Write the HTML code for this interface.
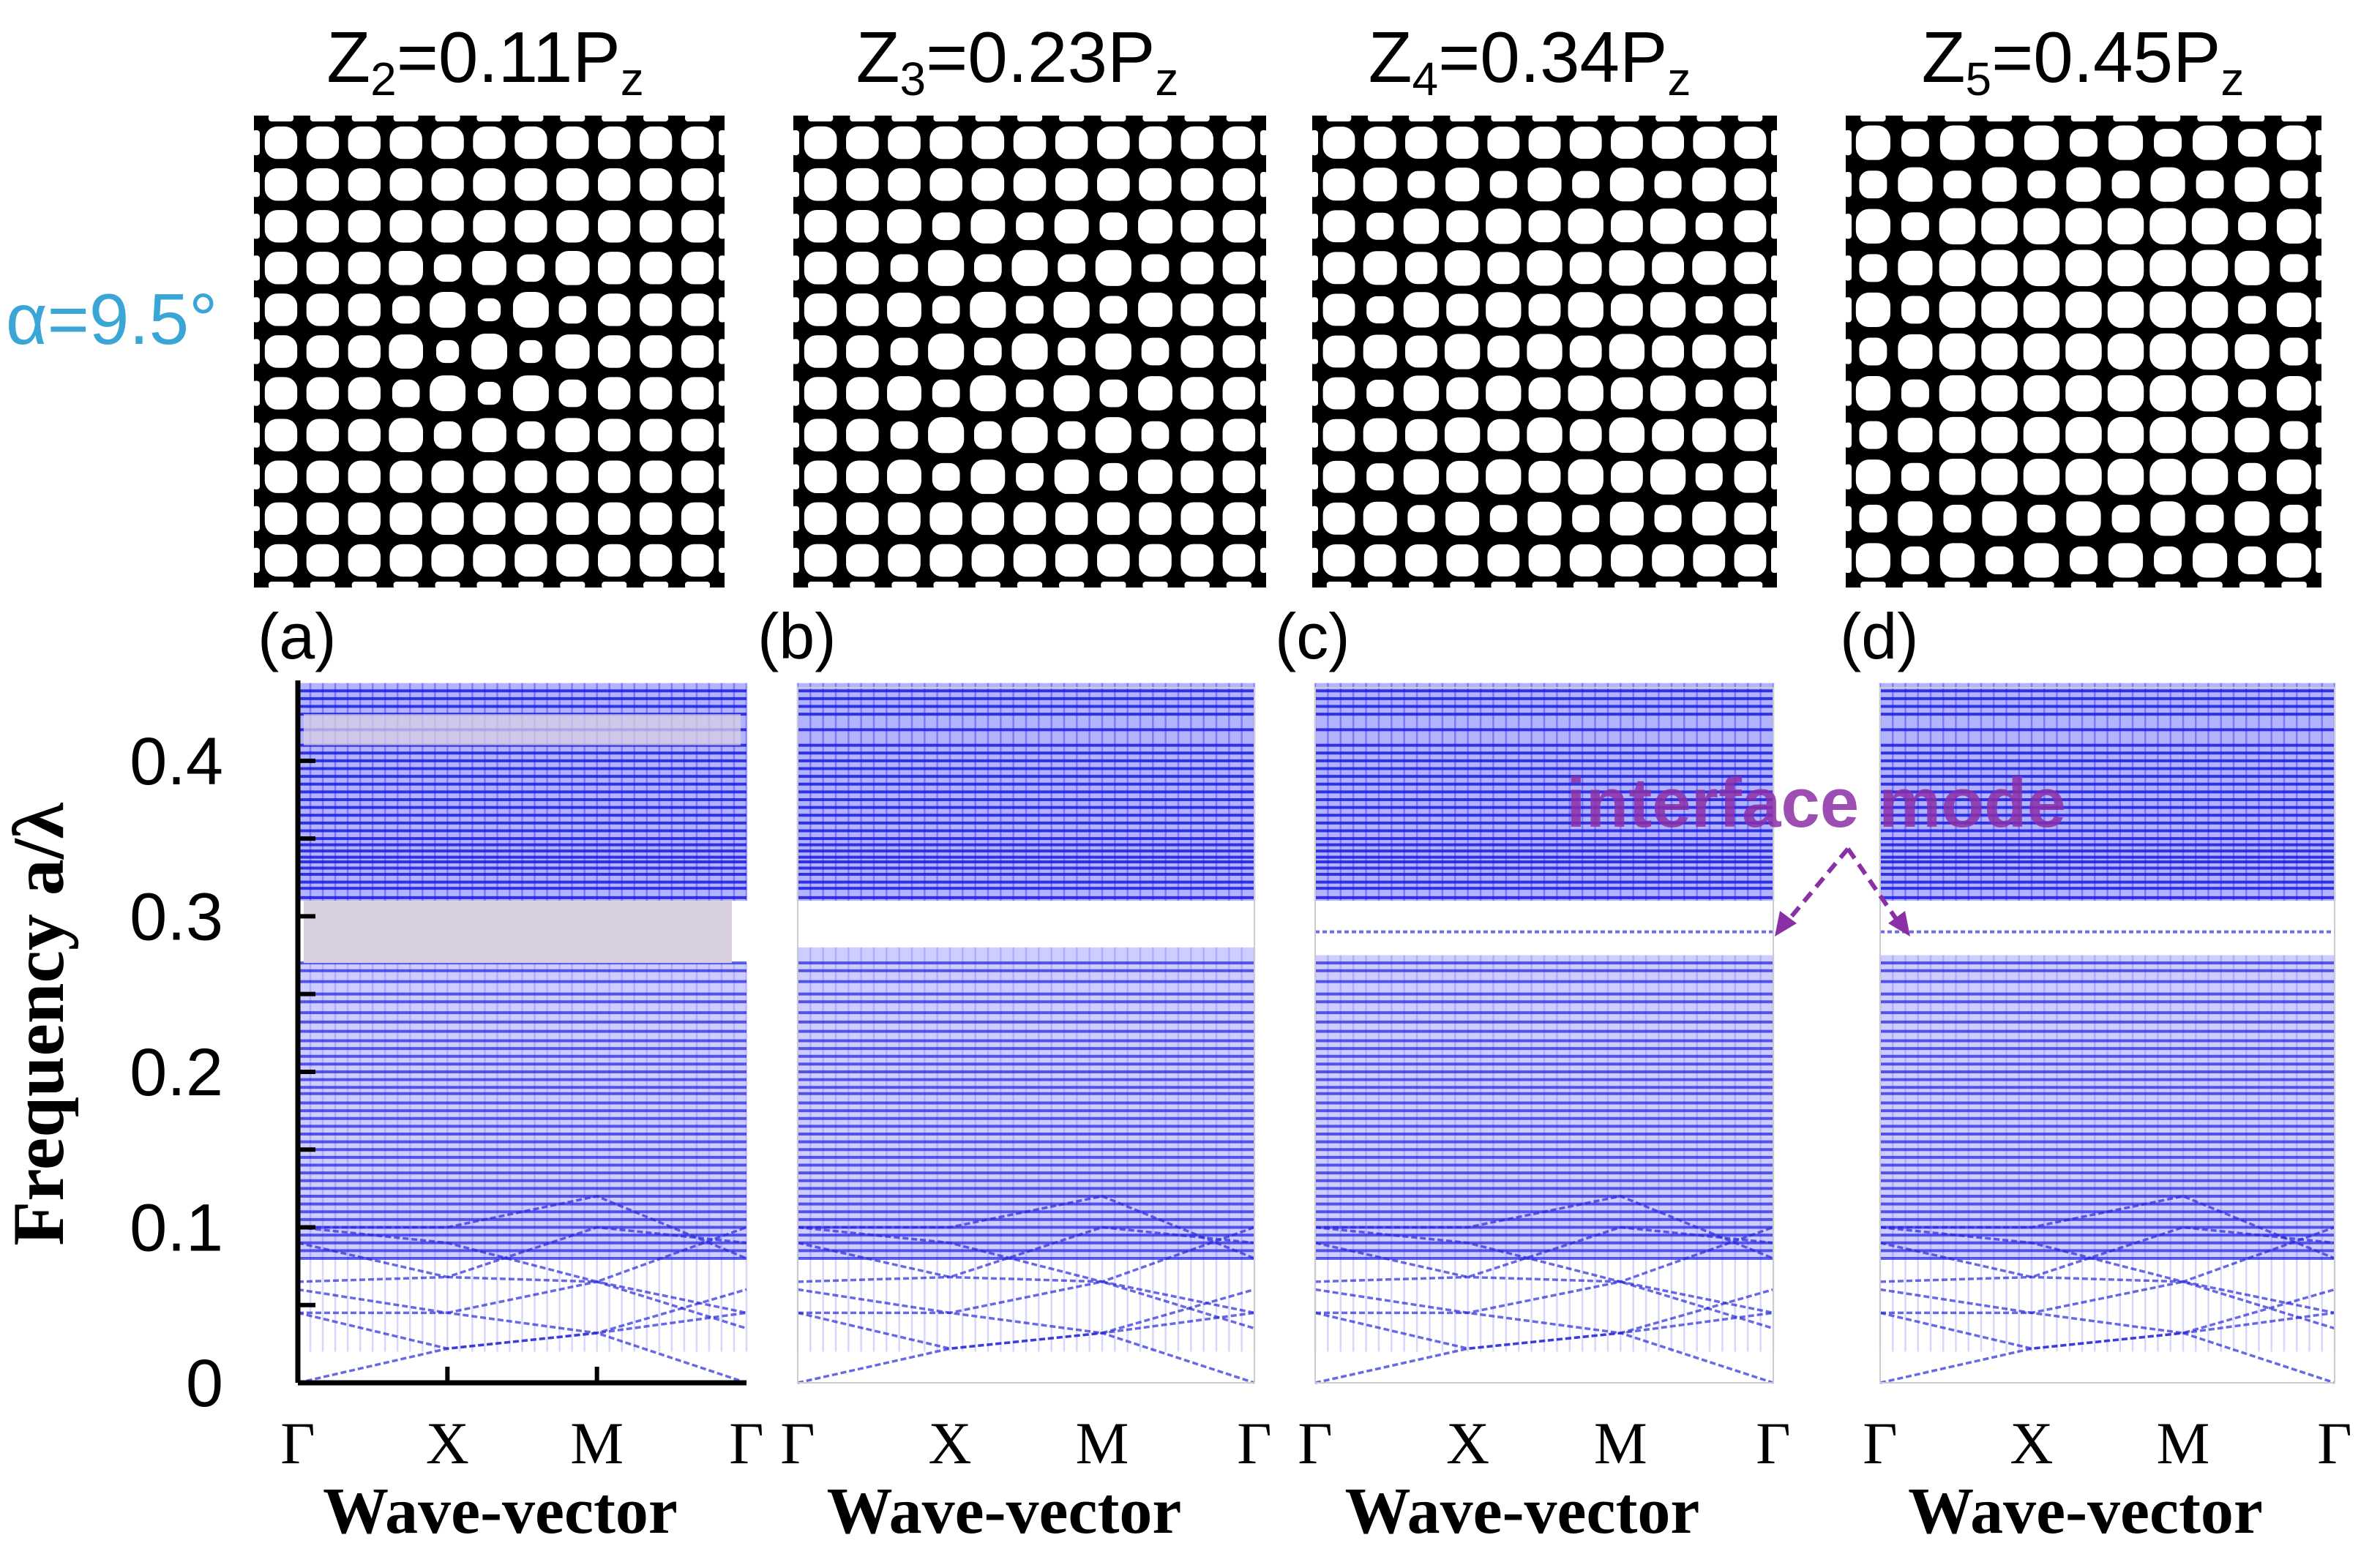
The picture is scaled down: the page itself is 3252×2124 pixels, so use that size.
<!DOCTYPE html>
<html><head><meta charset="utf-8"><style>
html,body{margin:0;padding:0;background:#fff}
svg{display:block}
text{font-family:"Liberation Sans",sans-serif}
.serif{font-family:"Liberation Serif",serif}
</style></head><body>
<svg id="fig" width="3252" height="2124" viewBox="0 0 3252 2124" xmlns="http://www.w3.org/2000/svg">
<g id="titles">
<text x="663" y="112" font-size="98" text-anchor="middle">Z<tspan font-size="64" dy="18">2</tspan><tspan dy="-18">=0.11P</tspan><tspan font-size="64" dy="18">z</tspan></text>
<text x="1390" y="112" font-size="98" text-anchor="middle">Z<tspan font-size="64" dy="18">3</tspan><tspan dy="-18">=0.23P</tspan><tspan font-size="64" dy="18">z</tspan></text>
<text x="2090" y="112" font-size="98" text-anchor="middle">Z<tspan font-size="64" dy="18">4</tspan><tspan dy="-18">=0.34P</tspan><tspan font-size="64" dy="18">z</tspan></text>
<text x="2846" y="112" font-size="98" text-anchor="middle">Z<tspan font-size="64" dy="18">5</tspan><tspan dy="-18">=0.45P</tspan><tspan font-size="64" dy="18">z</tspan></text>
</g>
<text x="8" y="470" font-size="98" fill="#3aa6d6">α=9.5°</text>
<g id="mosaics"></g>
<g id="panels"></g>
<text class="serif" transform="translate(86,1400) rotate(-90)" font-size="100" font-weight="bold" text-anchor="middle">Frequency a/λ</text>
<g>
<text x="2140" y="1130" font-size="96" font-weight="bold" fill="#8b2fa6" fill-opacity="0.85">interface mode</text>
<line x1="2525" y1="1160" x2="2440" y2="1262" stroke="#8b2fa6" stroke-width="6" stroke-dasharray="16,10"/>
<line x1="2525" y1="1160" x2="2595" y2="1262" stroke="#8b2fa6" stroke-width="6" stroke-dasharray="16,10"/>
<polygon points="2425,1280 2432,1245 2455,1262" fill="#8b2fa6"/>
<polygon points="2610,1280 2580,1262 2603,1245" fill="#8b2fa6"/>
</g>
</svg>
<script>
// ---- data ----
const yTicks = [0, 0.1, 0.2, 0.3, 0.4];
const kLabels = ["Γ", "X", "M", "Γ"];
const panelLabels = ["(a)", "(b)", "(c)", "(d)"];
const upperBands = [0.312,0.318,0.322,0.327,0.331,0.335,0.338,0.342,0.346,0.350,0.355,0.360,0.365,0.370,0.375,0.380,0.385,0.390,0.395,0.400,0.405,0.410,0.420,0.430,0.435,0.440,0.445];
const lowerBands = [0.270,0.265,0.258,0.250,0.245,0.238,0.232,0.226,0.220,0.215,0.210,0.205,0.200,0.195,0.190,0.186,0.180,0.175,0.170,0.165,0.160,0.155,0.150,0.145,0.140,0.135,0.130,0.125,0.120,0.115,0.110,0.105,0.100,0.095,0.090,0.085,0.080];
const dispGamma1 = [0, 0.045, 0.045, 0.060, 0.065, 0.090, 0.100, 0.100];
const dispX      = [0.022, 0.022, 0.045, 0.045, 0.068, 0.068, 0.090, 0.100];
const dispM      = [0.032, 0.032, 0.065, 0.032, 0.065, 0.100, 0.065, 0.120];
const dispGamma2 = [0, 0.045, 0.045, 0.060, 0.035, 0.090, 0.100, 0.080];
const interfaceMode = [null, null, 0.29, 0.29];
const gapLow = [0.27, 0.28, 0.275, 0.275];
const gapHigh = [0.31, 0.31, 0.31, 0.31];
// ---- layout ----
const panelsX = [[407,1020],[1090,1714],[1797,2423],[2569,3190]];
const mosaicX = [[347,990],[1084,1730],[1793,2428],[2522,3172]];
const Y0 = 1890, YTOP = 940, FMAX = 0.447;
const NS = "http://www.w3.org/2000/svg";
function yS(f){ return Y0 - f/FMAX*(Y0-YTOP); }
function mk(tag, attrs, parent){ const e=document.createElementNS(NS,tag); for(const k in attrs) e.setAttribute(k,attrs[k]); parent.appendChild(e); return e; }

// mosaics
const mg = document.getElementById('mosaics');
mosaicX.forEach((mx,pi)=>{
  const g = mk('g',{},mg);
  
  
  const x0=mx[0], w=mx[1]-mx[0], y0=158, h=645;
  mk('rect',{x:x0,y:y0,width:w,height:h,fill:'#000'},g);
  const n=11, p=w/(n+0.3), q=h/(n+0.3);
  for(let i=0;i<n;i++){
    const cx=x0+p*(i+0.65), cy=y0+q*(i+0.65);
    mk('rect',{x:cx-p*0.3,y:y0-2,width:p*0.6,height:10,rx:4,fill:'#fff'},g);
    mk('rect',{x:cx-p*0.3,y:y0+h-8,width:p*0.6,height:10,rx:4,fill:'#fff'},g);
    mk('rect',{x:x0-2,y:cy-q*0.3,width:10,height:q*0.6,rx:4,fill:'#fff'},g);
    mk('rect',{x:x0+w-8,y:cy-q*0.3,width:10,height:q*0.6,rx:4,fill:'#fff'},g);
  }
  for(let i=0;i<n;i++)for(let j=0;j<n;j++){
    const cx=x0+p*(i+0.65), cy=y0+q*(j+0.65);
    const di=Math.abs(i-5), dj=Math.abs(j-5), r=Math.max(di,dj);
    let s=0.78;
    const c = [2.2,3.2,4.2,5.2][pi];
    if(r<=c*0.75){ s = ((i+j)%2===0)? 0.86 : (pi===0?0.55:(pi===1?0.66:0.78)); if(pi===3) s=0.86; }
    else if(r<=c){ s = ((i+j)%2===0)? 0.82 : 0.66; }
    const sz=p*s;
    mk('rect',{x:cx-sz/2,y:cy-sz/2,width:sz,height:sz,rx:sz*0.38,fill:'#fff'},g);
  }
});

// panels
const pg = document.getElementById('panels');
panelsX.forEach((px,pi)=>{
  const g = mk('g',{},pg);
  
  
  const xL=px[0], xR=px[1], W=xR-xL;
  const kx = t => xL + t*W;
  mk('rect',{x:xL,y:yS(0.45),width:W,height:yS(gapHigh[pi])-yS(0.45),fill:'#4a4aff','fill-opacity':0.42},g);
  mk('rect',{x:xL,y:yS(gapLow[pi]),width:W,height:yS(0.08)-yS(gapLow[pi]),fill:'#5a5aff','fill-opacity':0.3},g);
  for(let i=0;i<=36;i++){
    mk('line',{x1:kx(i/36),x2:kx(i/36),y1:yS(0.45),y2:yS(gapHigh[pi]),stroke:'#1515ee','stroke-opacity':0.35,'stroke-width':2.5},g);
    mk('line',{x1:kx(i/36),x2:kx(i/36),y1:yS(gapLow[pi]),y2:yS(0.02),stroke:'#2020ee','stroke-opacity':0.18,'stroke-width':2.5},g);
  }
  upperBands.forEach(f=>{
    const l=mk('line',{x1:xL,x2:xR,y1:yS(f),y2:yS(f),stroke:'#1a1ae0','stroke-width':4,'stroke-opacity':0.85},g);
    
    
  });
  lowerBands.forEach(f=>{
    if(f>gapLow[pi]) return;
    const l=mk('line',{x1:xL,x2:xR,y1:yS(f),y2:yS(f),stroke:'#2020e0','stroke-width':4,'stroke-opacity':0.7},g);
    
    
  });
  dispGamma1.forEach((v,i)=>{
    const pts=[[0,v],[1/3,dispX[i]],[2/3,dispM[i]],[1,dispGamma2[i]]].map(q=>kx(q[0])+','+yS(q[1])).join(' ');
    const l=mk('polyline',{points:pts,fill:'none',stroke:'#2a2ad8','stroke-width':3.5,'stroke-opacity':0.7,'stroke-dasharray':'8,4'},g);
    
    
  });
  if(interfaceMode[pi]!==null){
    const l=mk('line',{x1:xL,x2:xR,y1:yS(interfaceMode[pi]),y2:yS(interfaceMode[pi]),stroke:'#3030d8','stroke-width':4,'stroke-opacity':0.7,'stroke-dasharray':'6,4'},g);
    
    
  }
  if(pi===0){
    const s1=mk('rect',{x:xL+8,y:yS(gapHigh[0]),width:W-28,height:yS(gapLow[0])-yS(gapHigh[0]),fill:'#d8cfe0'},g);
    
    
    const s2=mk('rect',{x:xL+8,y:yS(0.43),width:W-16,height:yS(0.41)-yS(0.43),fill:'#d8cfe0','fill-opacity':0.75},g);
    
    
    mk('line',{x1:xL,x2:xL,y1:YTOP-10,y2:Y0,stroke:'#000','stroke-width':7},g);
    mk('line',{x1:xL,x2:xR,y1:Y0,y2:Y0,stroke:'#000','stroke-width':7},g);
    for(let i=0;i<=8;i++) mk('line',{x1:xL,x2:xL+24,y1:yS(i*0.05),y2:yS(i*0.05),stroke:'#000','stroke-width':6},g);
    [1/3,2/3].forEach(t=>mk('line',{x1:kx(t),x2:kx(t),y1:Y0,y2:Y0-22,stroke:'#000','stroke-width':6},g));
    yTicks.forEach(v=>{
      const t=mk('text',{x:305,y:yS(v)+32,'font-size':92,'text-anchor':'end'},g);
      t.textContent = v===0?'0':v.toFixed(1);
      
      
    });
  } else {
    mk('rect',{x:xL,y:YTOP,width:W,height:Y0-YTOP,fill:'none',stroke:'#ccc','stroke-width':2},g);
  }
  kLabels.forEach((lb,i)=>{
    const t=mk('text',{x:kx(i/3),y:2000,'font-size':82,'text-anchor':'middle',class:'serif'},g);
    t.textContent=lb;
    
    
  });
  const xt=mk('text',{x:(xL+xR)/2-30,y:2095,'font-size':90,'font-weight':'bold','text-anchor':'middle',class:'serif'},g);
  xt.textContent='Wave-vector';
  
  
  const pl=mk('text',{x:xL-55,y:900,'font-size':88},g);
  pl.textContent=panelLabels[pi];
  
  
});
</script>
</body></html>
